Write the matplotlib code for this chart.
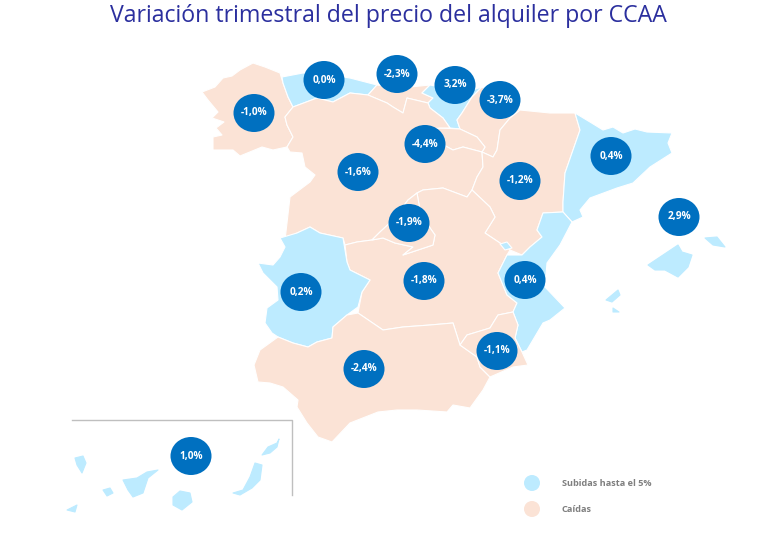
import matplotlib
matplotlib.use("Agg")
import matplotlib.pyplot as plt
from matplotlib.patches import Polygon, Ellipse

TITLE = "Variación trimestral del precio del alquiler por CCAA"
LEGEND_LABELS = ["Subidas hasta el 5%", "Caídas"]
LIGHT_BLUE = "#BDEBFF"
PEACH = "#FBE3D6"
BUBBLE = "#0070C0"

# Approximate region outlines (pixel space of the map)
galicia = [(202,92),(215,87),(223,78),(232,76),(240,70),(253,63),(265,67),(280,73),(283,83),(288,97),(293,107),(285,117),(287,125),(293,137),(287,147),(273,150),(262,147),(240,156),(233,150),(213,150),(213,137),(222,135),(216,128),(224,122),(212,118),(218,112),(208,100)]
asturias = [(283,83),(282,77),(303,73),(330,75),(350,78),(377,85),(368,95),(350,93),(333,102),(317,98),(293,107),(288,97)]
cantabria = [(377,85),(400,88),(430,85),(422,93),(433,98),(428,103),(407,98),(403,113),(393,107),(387,103),(368,95)]
pais_vasco = [(422,93),(430,85),(445,88),(465,92),(482,87),(472,97),(462,113),(457,120),(460,129),(450,128),(443,118),(430,108),(428,103),(433,98)]
navarra = [(482,87),(500,98),(520,110),(510,118),(500,130),(497,150),(493,157),(482,152),(485,147),(477,137),(460,129),(457,120),(462,113),(472,97)]
la_rioja = [(423,130),(440,128),(460,129),(477,137),(485,147),(482,152),(463,147),(453,150),(440,143)]
castilla_leon = [(293,107),(285,117),(287,125),(293,137),(287,147),(290,152),(302,153),(305,167),(315,175),(310,182),(290,197),(287,223),(285,240),(297,233),(310,227),(320,233),(343,238),(345,245),(357,242),(372,240),(380,232),(393,220),(408,200),(417,193),(423,190),(443,188),(467,197),(472,190),(477,177),(483,167),(482,152),(463,147),(453,150),(440,143),(423,130),(440,128),(450,128),(443,118),(430,108),(428,103),(407,98),(403,113),(393,107),(387,103),(368,95),(350,93),(333,102),(317,98)]
madrid = [(417,193),(408,200),(393,220),(380,232),(372,240),(383,238),(395,243),(413,247),(403,255),(433,245),(435,235),(428,225),(420,210)]
aragon = [(510,118),(520,110),(550,113),(575,113),(580,130),(565,173),(563,202),(563,212),(543,213),(537,230),(542,237),(530,247),(522,255),(510,250),(500,243),(485,233),(495,217),(490,207),(472,190),(477,177),(483,167),(482,152),(493,157),(497,150),(500,130)]
cataluna = [(575,113),(590,122),(603,130),(613,127),(623,133),(635,129),(647,132),(672,133),(668,143),(672,153),(650,167),(633,183),(617,188),(590,198),(580,210),(583,217),(572,222),(563,212),(563,202),(565,173),(580,130)]
valencia = [(543,213),(563,212),(572,222),(560,245),(547,263),(545,287),(565,308),(550,320),(543,323),(527,350),(522,352),(515,338),(518,325),(513,312),(517,303),(507,295),(498,273),(507,255),(522,255),(530,247),(542,237),(537,230)]
ademuz = [(500,244),(507,242),(512,248),(505,250)]
castilla_mancha = [(417,193),(423,190),(443,188),(467,197),(472,190),(490,207),(495,217),(485,233),(500,243),(510,250),(507,255),(498,273),(507,295),(517,303),(513,312),(498,315),(490,328),(467,335),(460,345),(453,323),(430,325),(403,327),(383,330),(358,313),(362,292),(370,280),(350,270),(347,262),(345,245),(357,242),(372,240),(383,238),(395,243),(413,247),(403,255),(433,245),(435,235),(428,225),(420,210)]
extremadura = [(280,238),(297,233),(310,227),(320,233),(343,238),(345,250),(347,262),(350,270),(370,280),(362,292),(358,307),(347,315),(333,327),(332,338),(317,342),(308,347),(293,343),(278,337),(272,333),(265,323),(267,308),(278,300),(277,287),(263,273),(258,263),(273,265),(280,257),(285,247)]
andalucia = [(254,365),(260,350),(278,337),(293,343),(308,347),(317,342),(332,338),(333,327),(347,315),(358,313),(383,330),(403,327),(430,325),(453,323),(460,345),(477,357),(480,367),(490,377),(483,390),(470,408),(453,405),(447,412),(417,410),(397,410),(378,412),(350,423),(332,442),(318,437),(307,423),(297,407),(298,400),(283,387),(270,383),(258,382)]
murcia = [(460,345),(467,335),(490,328),(498,315),(513,312),(518,325),(515,338),(522,352),(528,365),(513,367),(490,377),(480,367),(477,357)]
mallorca = [(648,265),(663,255),(678,245),(682,252),(692,255),(688,267),(678,277),(665,270),(655,270)]
menorca = [(705,238),(717,237),(725,247),(713,245)]
ibiza = [(606,300),(618,290),(620,295),(612,302)]
formentera = [(613,308),(619,312),(613,312)]
el_hierro = [(67,510),(77,505),(75,512)]
la_gomera = [(103,490),(110,488),(113,493),(107,496)]
la_palma = [(75,458),(83,456),(86,463),(82,473),(77,465)]
tenerife = [(123,480),(137,478),(147,472),(158,470),(148,478),(143,493),(133,497),(128,490)]
gran_canaria = [(173,497),(180,491),(190,493),(192,502),(182,510),(173,505)]
fuerteventura = [(233,493),(243,490),(250,477),(255,463),(262,465),(260,480),(252,488),(240,495)]
lanzarote = [(262,455),(268,447),(277,443),(279,439),(277,447),(270,453)]

galicia_val, asturias_val, cantabria_val, pv_val, navarra_val = -1.0, 0.0, -2.3, 3.2, -3.7
rioja_val, cyl_val, aragon_val, cat_val, bal_val = -4.4, -1.6, -1.2, 0.4, 2.9
madrid_val, ext_val, clm_val, val_val, mur_val, and_val, can_val = -1.9, 0.2, -1.8, 0.4, -1.1, -2.4, 1.0

# (outlines, value, bubble centre, islands?)
regions = [
    ([galicia], galicia_val, (254,113), False),
    ([asturias], asturias_val, (324,80), False),
    ([cantabria], cantabria_val, (397,74), False),
    ([pais_vasco], pv_val, (455,85), False),
    ([navarra], navarra_val, (500,100), False),
    ([la_rioja], rioja_val, (425,144), False),
    ([castilla_leon], cyl_val, (358,172), False),
    ([aragon], aragon_val, (520,181), False),
    ([cataluna], cat_val, (611,156), False),
    ([mallorca, menorca, ibiza, formentera], bal_val, (679,217), True),
    ([castilla_mancha], clm_val, (424,281), False),
    ([madrid], madrid_val, (409,223), False),
    ([extremadura], ext_val, (301,292), False),
    ([valencia, ademuz], val_val, (525,280), False),
    ([andalucia], and_val, (364,369), False),
    ([murcia], mur_val, (497,351), False),
    ([el_hierro, la_gomera, la_palma, tenerife, gran_canaria, fuerteventura, lanzarote], can_val, (191,456), True),
]

fig = plt.figure(figsize=(7.68, 5.48), dpi=100)
ax = fig.add_axes([0, 0, 1, 1])
ax.set_xlim(0, 768)
ax.set_ylim(548, 0)
ax.axis("off")

for outlines, value, _, islands in regions:
    colour = LIGHT_BLUE if value >= 0 else PEACH
    edge = colour if islands else "white"
    for pts in outlines:
        ax.add_patch(Polygon(pts, closed=True, facecolor=colour, edgecolor=edge, linewidth=0.8, joinstyle="round"))

for _, value, (cx, cy), _ in regions:
    ax.add_patch(Ellipse((cx, cy), 41, 38, facecolor=BUBBLE, edgecolor="none", zorder=3))
    label = f"{value:.1f}%".replace(".", ",")
    ax.text(cx, cy, label, color="white", fontsize=7.3, fontweight="bold", family="Open Sans",
            ha="center", va="center", zorder=4)

ax.plot([72, 292, 292], [419.5, 419.5, 495], color="#BFBFBF", linewidth=1)

ax.text(388.5, 16, TITLE, color="#2B2F9E", fontsize=16.7, family="Open Sans", ha="center", va="center")

for (y, colour, label) in zip([483, 509], [LIGHT_BLUE, PEACH], LEGEND_LABELS):
    ax.add_patch(Ellipse((532, y), 16, 16, facecolor=colour, edgecolor="none"))
    ax.text(562, y, label, color="#7F7F7F", fontsize=6.6, fontweight="bold", family="Open Sans", ha="left", va="center")

fig.savefig("out.png", dpi=100)
